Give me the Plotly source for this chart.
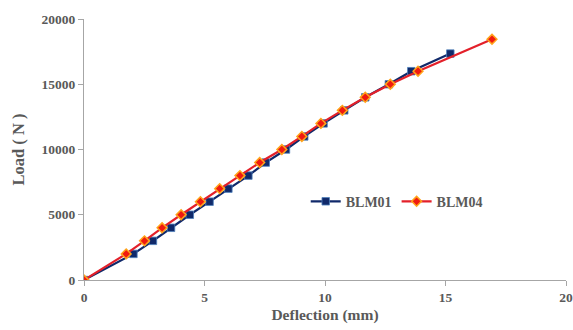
import plotly.graph_objects as go

blm01_x = [0, 2.05, 2.86, 3.61, 4.39, 5.21, 5.99, 6.82, 7.54, 8.38, 9.14, 9.94, 10.80, 11.67, 12.65, 13.58, 15.20]
blm01_y = [0, 2000, 3000, 4000, 5000, 6000, 7000, 8000, 9000, 10000, 11000, 12000, 13000, 14000, 15000, 16000, 17350]
blm04_x = [0, 1.75, 2.51, 3.24, 4.03, 4.83, 5.63, 6.47, 7.29, 8.21, 9.04, 9.83, 10.72, 11.67, 12.71, 13.86, 16.93]
blm04_y = [0, 2000, 3000, 4000, 5000, 6000, 7000, 8000, 9000, 10000, 11000, 12000, 13000, 14000, 15000, 16000, 18450]

x_ticks = [0, 5, 10, 15, 20]
y_ticks = [0, 5000, 10000, 15000, 20000]

font_family = "Liberation Serif, Times New Roman, serif"
grey = "#595959"

fig = go.Figure()
fig.add_trace(go.Scatter(
    x=blm01_x, y=blm01_y, name="<b>BLM01</b>", mode="lines+markers",
    line=dict(color="#10296a", width=2.2),
    marker=dict(symbol="square", size=7.5, color="#10296a", line=dict(color="#4f81bd", width=0.8)),
))
fig.add_trace(go.Scatter(
    x=blm04_x, y=blm04_y, name="<b>BLM04</b>", mode="lines+markers",
    line=dict(color="#e3202a", width=2.2),
    marker=dict(symbol="diamond", size=7.5, color="#f01a10", line=dict(color="#ffa31a", width=1.5)),
))

axis_common = dict(
    showgrid=False, zeroline=False, showline=True, linecolor="#a6a6a6", linewidth=1,
    ticks="outside", ticklen=5, tickcolor="#a6a6a6", automargin=False,
    tickfont=dict(family=font_family, size=13.5, color=grey),
)

fig.update_layout(
    width=573, height=330,
    margin=dict(l=84, r=7, t=19, b=50),
    paper_bgcolor="white", plot_bgcolor="white",
    font=dict(family=font_family, color=grey),
    xaxis=dict(range=[0, 20], tickvals=x_ticks, ticktext=["<b>%d</b>" % v for v in x_ticks],
               title=dict(text="<b>Deflection (mm)</b>", font=dict(family=font_family, size=15.5, color=grey), standoff=4),
               **axis_common),
    yaxis=dict(range=[0, 20000], tickvals=y_ticks, ticktext=["<b>%d</b>" % v for v in y_ticks],
               title=dict(text="<b>Load ( N )</b>", font=dict(family=font_family, size=16.5, color=grey), standoff=12),
               **axis_common),
    legend=dict(orientation="h", x=0.46, y=0.30, xanchor="left", yanchor="middle",
                font=dict(family=font_family, size=14, color=grey), bgcolor="rgba(0,0,0,0)",
                itemwidth=30, traceorder="normal"),
    showlegend=True,
)

fig.write_html("out.html", config={"displayModeBar": False},
               post_script="document.body.style.margin='0';")
